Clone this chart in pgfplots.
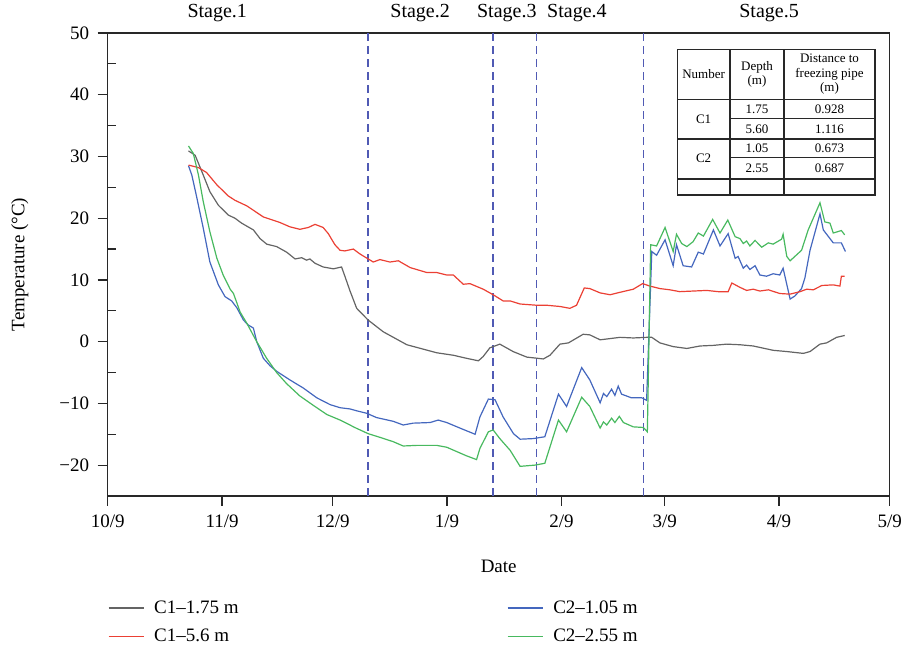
\documentclass[border=0pt]{standalone}
\usepackage{fontspec}
\setmainfont{Liberation Serif}
\usepackage{pgfplots}
\pgfplotsset{compat=1.18}
\definecolor{cgray}{RGB}{100,100,100}
\definecolor{cred}{RGB}{235,64,52}
\definecolor{cblue}{RGB}{68,103,190}
\definecolor{cgreen}{RGB}{72,185,95}
\definecolor{cdash}{RGB}{80,90,180}
\definecolor{caxis}{RGB}{40,40,40}
\newcommand{\mainfont}{\fontsize{19}{22}\selectfont}
\newcommand{\tabfont}{\fontsize{13}{14.5}\selectfont}
\begin{document}
\begin{tikzpicture}[x=1pt,y=1pt]
\useasboundingbox (0,0) rectangle (904,652);
\begin{axis}[
  at={(107.7pt,156pt)}, anchor=south west,
  width=782pt, height=463pt, scale only axis,
  xmin=0, xmax=212, ymin=-25, ymax=50,
  clip=false,
  axis line style={caxis, line width=1.3pt},
  xtick={0,31,61,92,123,151,182,212},
  xticklabels={10/9,11/9,12/9,1/9,2/9,3/9,4/9,5/9},
  ytick={-20,-10,0,10,20,30,40,50},
  yticklabels={−20,−10,0,10,20,30,40,50},
  extra y ticks={-15,-5,5,15,25,35,45},
  extra y tick labels={},
  extra y tick style={tick align=inside, major tick length=8pt},
  xtick pos=bottom, ytick pos=left,
  tick align=outside,
  major tick length=10pt,
  tick style={caxis, line width=1.2pt},
  ticklabel style={font=\mainfont, text=black},
  yticklabel style={xshift=-5pt},
  xticklabel style={yshift=-5pt},
  xlabel={Date}, ylabel={Temperature (°C)},
  xlabel style={at={(axis description cs:0.5,-0.151)}, anchor=center, font=\mainfont},
  ylabel style={at={(axis description cs:-0.1125,0.5)}, anchor=center, font=\mainfont},
  legend columns=2,
  legend style={at={(axis description cs:0,-0.222)}, anchor=north west, draw=none, fill=none,
    font=\mainfont, row sep=10pt, inner sep=0pt},
  legend cell align=left,
  legend image code/.code={\draw[#1] (0pt,0pt) -- (35pt,0pt);},
]
% stage separators
\addplot[cdash, line width=1.5pt, dash pattern=on 8pt off 5pt, forget plot] coordinates {(70.6,-25) (70.6,50)};
\addplot[cdash, line width=1.5pt, dash pattern=on 8pt off 5pt, forget plot] coordinates {(104.4,-25) (104.4,50)};
\addplot[cdash, line width=1.5pt, dash pattern=on 8pt off 5pt, forget plot] coordinates {(116.3,-25) (116.3,50)};
\addplot[cdash, line width=1.5pt, dash pattern=on 8pt off 5pt, forget plot] coordinates {(145.3,-25) (145.3,50)};

% C1-1.75 m
\addplot[cgray, line width=1.2pt] coordinates {
(21.9,30.9) (23.7,30.2) (25.9,27.0) (27.7,24.3) (30.0,22.1) (32.7,20.5) (34.5,20.0) (36.3,19.2) (39.5,18.1) (41.3,16.7) (43.1,15.8) (45.8,15.4) (48.5,14.5) (50.8,13.4) (52.6,13.6) (53.9,13.2) (54.8,13.4) (56.2,12.7) (58.4,12.1) (61.2,11.8) (63.4,12.1) (64.3,10.6) (65.7,8.2) (67.5,5.4) (70.6,3.5) (74.7,1.6) (81.1,-0.5) (89.2,-1.8) (93.7,-2.2) (97.3,-2.7) (100.5,-3.1) (101.8,-2.4) (103.6,-1.0) (106.3,-0.4) (109.9,-1.6) (113.6,-2.5) (118.1,-2.8) (119.9,-2.2) (122.6,-0.4) (124.9,-0.2) (128.9,1.2) (130.7,1.1) (133.5,0.3) (138.9,0.7) (142.5,0.6) (146.1,0.7) (147.5,0.7) (149.7,-0.2) (153.3,-0.8) (157.0,-1.1) (160.6,-0.7) (164.2,-0.6) (167.8,-0.4) (171.4,-0.5) (175.0,-0.7) (180.4,-1.4) (184.1,-1.6) (188.6,-1.9) (190.4,-1.6) (193.1,-0.4) (194.9,-0.2) (197.6,0.7) (199.8,1.0)
};
\addlegendentry{\makebox[359pt][l]{\hspace*{8pt}C1–1.75 m}}

% C2-1.05 m
\addplot[cblue, line width=1.2pt] coordinates {
(21.9,28.5) (22.8,27.0) (24.1,23.5) (25.9,18.4) (27.7,12.9) (30.0,9.2) (31.8,7.3) (33.6,6.6) (35.0,5.5) (36.8,3.5) (38.1,2.7) (39.5,2.2) (40.4,0.0) (42.2,-2.7) (44.0,-3.9) (45.8,-4.8) (49.4,-6.2) (53.0,-7.5) (56.7,-9.1) (60.3,-10.2) (63.0,-10.7) (65.7,-10.9) (67.5,-11.2) (70.2,-11.6) (72.9,-12.3) (77.4,-12.9) (80.1,-13.5) (82.8,-13.2) (87.4,-13.1) (89.6,-12.7) (91.9,-13.1) (95.5,-14.0) (99.6,-15.0) (100.9,-12.2) (103.2,-9.3) (105.0,-9.4) (107.2,-12.2) (110.0,-14.9) (111.8,-15.8) (115.4,-15.7) (118.5,-15.4) (122.2,-8.5) (124.4,-10.5) (128.5,-4.2) (130.7,-6.2) (133.5,-9.9) (134.4,-8.4) (135.3,-8.9) (136.6,-7.7) (137.5,-8.7) (138.4,-7.2) (139.3,-8.5) (142.0,-9.1) (144.8,-9.1) (146.1,-9.5) (147.5,14.6) (148.8,14.0) (151.1,16.5) (153.3,12.3) (154.2,15.7) (156.0,12.3) (158.3,12.1) (160.1,14.5) (161.5,14.2) (164.2,18.1) (166.0,15.5) (168.2,17.5) (170.1,13.5) (170.9,13.8) (172.3,11.9) (173.2,12.4) (174.1,11.7) (175.5,12.3) (176.8,10.8) (178.6,10.6) (180.4,11.0) (182.2,10.8) (183.1,11.9) (185.0,6.9) (186.3,7.4) (188.1,8.6) (189.0,10.3) (190.4,14.8) (193.1,20.7) (194.0,18.1) (196.7,16.0) (198.9,16.0) (200.0,14.6)
};
\addlegendentry{\hspace*{8pt}C2–1.05 m}

% C1-5.6 m
\addplot[cred, line width=1.2pt] coordinates {
(21.9,28.6) (24.6,28.2) (26.8,27.4) (29.6,25.4) (32.7,23.6) (34.5,22.9) (37.7,22.0) (42.2,20.2) (46.7,19.3) (49.4,18.6) (52.1,18.2) (54.4,18.5) (56.2,19.0) (58.4,18.5) (59.8,17.5) (61.6,15.7) (63.0,14.8) (64.3,14.7) (66.6,15.0) (68.4,14.2) (72.0,12.9) (73.8,13.3) (76.5,12.9) (78.8,13.1) (82.0,12.0) (86.5,11.2) (89.2,11.2) (91.9,10.8) (93.7,10.8) (96.4,9.3) (98.2,9.4) (101.8,8.5) (104.5,7.6) (107.2,6.6) (109.1,6.6) (111.8,6.1) (116.3,5.9) (119.0,5.9) (122.6,5.7) (125.3,5.4) (127.1,5.9) (129.2,8.7) (130.7,8.6) (133.5,7.9) (136.2,7.6) (138.9,8.0) (142.5,8.5) (145.0,9.4) (147.0,9.0) (149.7,8.6) (152.4,8.4) (155.1,8.1) (158.7,8.2) (162.4,8.3) (165.5,8.1) (168.2,8.1) (169.2,9.5) (171.4,8.8) (173.2,8.3) (175.0,8.5) (176.8,8.2) (179.1,8.4) (182.2,7.8) (185.0,7.7) (187.7,8.1) (189.5,8.5) (191.3,8.4) (193.6,9.1) (196.7,9.2) (198.5,9.0) (198.9,10.6) (199.8,10.6)
};
\addlegendentry{\makebox[359pt][l]{\hspace*{8pt}C1–5.6 m}}

% C2-2.55 m
\addplot[cgreen, line width=1.2pt] coordinates {
(21.9,31.7) (23.2,30.5) (24.6,27.0) (25.9,22.7) (27.7,17.8) (29.6,13.5) (31.3,10.8) (33.2,8.5) (34.1,7.8) (35.9,4.8) (37.7,3.0) (40.4,0.0) (43.1,-2.7) (45.8,-5.0) (48.5,-6.8) (52.1,-8.8) (55.7,-10.3) (59.4,-11.8) (63.0,-12.7) (65.7,-13.5) (66.6,-13.8) (70.6,-14.9) (73.8,-15.5) (77.4,-16.2) (80.1,-16.9) (83.8,-16.8) (89.2,-16.8) (91.9,-17.1) (94.6,-17.8) (97.3,-18.5) (100.0,-19.1) (100.9,-17.3) (103.2,-14.6) (104.5,-14.3) (106.3,-15.7) (109.1,-17.6) (111.8,-20.2) (115.8,-20.0) (118.5,-19.7) (122.2,-12.7) (124.4,-14.6) (128.5,-9.0) (130.7,-10.5) (133.5,-14.0) (134.4,-13.0) (135.3,-13.5) (136.6,-12.4) (137.5,-13.1) (138.7,-12.1) (139.8,-13.1) (142.5,-13.8) (145.2,-13.9) (146.3,-14.6) (147.2,15.7) (148.8,15.5) (151.1,18.5) (153.3,14.6) (154.2,17.4) (155.6,15.9) (157.0,15.4) (158.7,16.2) (160.1,17.6) (161.5,17.1) (164.0,19.8) (166.0,17.6) (168.1,19.7) (170.1,17.0) (171.4,16.7) (172.3,15.9) (173.2,16.3) (174.1,15.5) (175.5,16.4) (177.3,15.3) (179.1,16.0) (180.4,15.8) (182.7,16.6) (183.1,17.4) (184.1,13.8) (185.0,13.1) (188.1,14.8) (189.9,18.1) (193.1,22.5) (194.4,19.4) (195.8,19.2) (196.7,17.6) (198.9,18.0) (199.8,17.3)
};
\addlegendentry{\hspace*{8pt}C2–2.55 m}

% stage labels
\node[font=\fontsize{20}{22}\selectfont] at (axis cs:29.7,53.2) {Stage.1};
\node[font=\fontsize{20}{22}\selectfont] at (axis cs:84.7,53.2) {Stage.2};
\node[font=\fontsize{20}{22}\selectfont] at (axis cs:108.2,53.2) {Stage.3};
\node[font=\fontsize{20}{22}\selectfont] at (axis cs:127.2,53.2) {Stage.4};
\node[font=\fontsize{20}{22}\selectfont] at (axis cs:179.3,53.2) {Stage.5};
\end{axis}

% information table
\fill[white] (677.3,457) rectangle (875,602.7);
\begin{scope}[line width=1.3pt, draw=caxis]
\draw (677.3,457) rectangle (875,602.7);
\draw (730,457) -- (730,602.7);
\draw (784,457) -- (784,602.7);
\draw (677.3,552.7) -- (875,552.7);
\draw (677.3,513) -- (875,513);
\draw (677.3,473) -- (875,473);
\draw[line width=0.8pt] (730,533.3) -- (875,533.3);
\draw[line width=0.8pt] (730,494.3) -- (875,494.3);
\end{scope}
\begin{scope}[font=\tabfont]
\node at (703.6,577.7) {Number};
\node[align=center] at (757,577.7) {Depth\\(m)};
\node[align=center] at (829.5,577.7) {Distance to\\freezing pipe\\(m)};
\node at (703.6,533) {C1};
\node at (703.6,493.5) {C2};
\node at (757,543) {1.75};
\node at (757,523.2) {5.60};
\node at (757,503.7) {1.05};
\node at (757,483.7) {2.55};
\node at (829.5,543) {0.928};
\node at (829.5,523.2) {1.116};
\node at (829.5,503.7) {0.673};
\node at (829.5,483.7) {0.687};
\end{scope}
\end{tikzpicture}
\end{document}
